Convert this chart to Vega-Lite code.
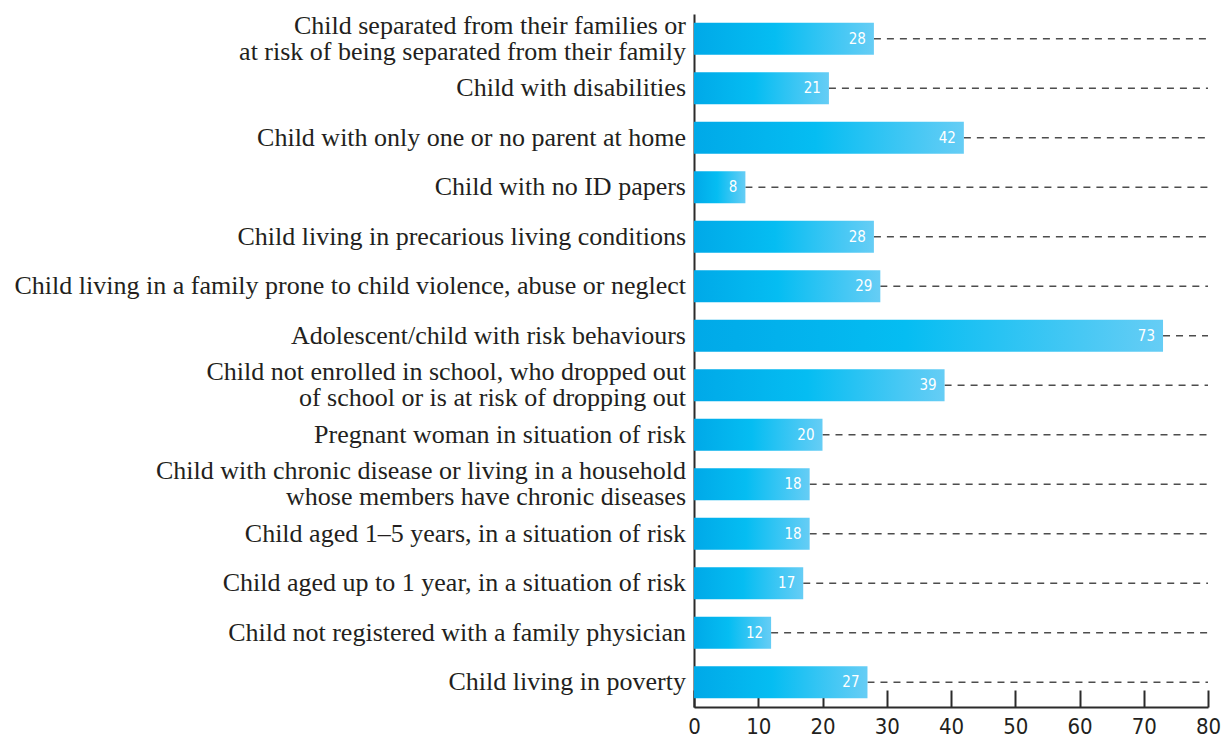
{
  "$schema": "https://vega.github.io/schema/vega-lite/v6.json",
  "width": 514,
  "height": 693,
  "autosize": {"type": "none"},
  "padding": {"left": 694, "top": 14, "right": 13, "bottom": 30},
  "background": "white",
  "data": {
    "values": [
      {"group": "g01", "label": "", "l1": "Child separated from their families or", "l2": "at risk of being separated from their family", "value": 28},
      {"group": "g02", "label": "Child with disabilities", "l1": "", "l2": "", "value": 21},
      {"group": "g03", "label": "Child with only one or no parent at home", "l1": "", "l2": "", "value": 42},
      {"group": "g04", "label": "Child with no ID papers", "l1": "", "l2": "", "value": 8},
      {"group": "g05", "label": "Child living in precarious living conditions", "l1": "", "l2": "", "value": 28},
      {"group": "g06", "label": "Child living in a family prone to child violence, abuse or neglect", "l1": "", "l2": "", "value": 29},
      {"group": "g07", "label": "Adolescent/child with risk behaviours", "l1": "", "l2": "", "value": 73},
      {"group": "g08", "label": "", "l1": "Child not enrolled in school, who dropped out ", "l2": "of school or is at risk of dropping out", "value": 39},
      {"group": "g09", "label": "Pregnant woman in situation of risk", "l1": "", "l2": "", "value": 20},
      {"group": "g10", "label": "", "l1": "Child with chronic disease or living in a household", "l2": "whose members have chronic diseases", "value": 18},
      {"group": "g11", "label": "Child aged 1–5 years, in a situation of risk", "l1": "", "l2": "", "value": 18},
      {"group": "g12", "label": "Child aged up to 1 year, in a situation of risk", "l1": "", "l2": "", "value": 17},
      {"group": "g13", "label": "Child not registered with a family physician", "l1": "", "l2": "", "value": 12},
      {"group": "g14", "label": "Child living in poverty", "l1": "", "l2": "", "value": 27}
    ]
  },
  "config": {
    "view": {"stroke": null},
    "axis": {"grid": false}
  },
  "encoding": {
    "y": {
      "field": "group",
      "type": "nominal",
      "sort": null,
      "title": null,
      "scale": {"paddingInner": 0.35, "paddingOuter": 0.175},
      "axis": {
        "ticks": false,
        "labels": false,
        "domain": true,
        "domainColor": "#2b2b2b",
        "domainWidth": 2
      }
    }
  },
  "layer": [
    {
      "mark": {"type": "rule", "strokeDash": [7, 6], "strokeWidth": 1.5, "color": "#4d4d4d"},
      "encoding": {
        "x": {
          "field": "value",
          "type": "quantitative",
          "scale": {"domain": [0, 80], "nice": false},
          "title": null,
          "axis": {
            "values": [0, 10, 20, 30, 40, 50, 60, 70, 80],
            "tickSize": -17,
            "tickWidth": 2,
            "tickColor": "#2b2b2b",
            "domainColor": "#2b2b2b",
            "domainWidth": 2,
            "labelFont": "DejaVu Sans Condensed, Roboto, sans-serif",
            "labelFontSize": 22,
            "labelColor": "#231f20",
            "labelPadding": 26,
            "labelFlush": false
          }
        },
        "x2": {"datum": 80}
      }
    },
    {
      "mark": {
        "type": "bar",
        "color": {
          "gradient": "linear",
          "x1": 0, "x2": 1, "y1": 0, "y2": 0,
          "stops": [
            {"offset": 0, "color": "#00a9e8"},
            {"offset": 0.45, "color": "#05bdf2"},
            {"offset": 1, "color": "#66cdf5"}
          ]
        }
      },
      "encoding": {
        "x": {"field": "value", "type": "quantitative"}
      }
    },
    {
      "mark": {
        "type": "text",
        "align": "right",
        "baseline": "middle",
        "dx": -8,
        "font": "DejaVu Sans Condensed, Roboto, sans-serif",
        "fontSize": 15,
        "color": "white"
      },
      "encoding": {
        "x": {"field": "value", "type": "quantitative"},
        "text": {"field": "value", "type": "quantitative"}
      }
    },
    {
      "mark": {
        "type": "text",
        "align": "right",
        "baseline": "middle",
        "dx": -8,
        "font": "Liberation Serif",
        "fontSize": 26,
        "color": "#231f20"
      },
      "encoding": {
        "x": {"datum": 0},
        "text": {"field": "label"}
      }
    },
    {
      "mark": {
        "type": "text",
        "align": "right",
        "baseline": "middle",
        "dx": -8,
        "dy": -13,
        "font": "Liberation Serif",
        "fontSize": 26,
        "color": "#231f20"
      },
      "encoding": {
        "x": {"datum": 0},
        "text": {"field": "l1"}
      }
    },
    {
      "mark": {
        "type": "text",
        "align": "right",
        "baseline": "middle",
        "dx": -8,
        "dy": 13,
        "font": "Liberation Serif",
        "fontSize": 26,
        "color": "#231f20"
      },
      "encoding": {
        "x": {"datum": 0},
        "text": {"field": "l2"}
      }
    }
  ]
}
